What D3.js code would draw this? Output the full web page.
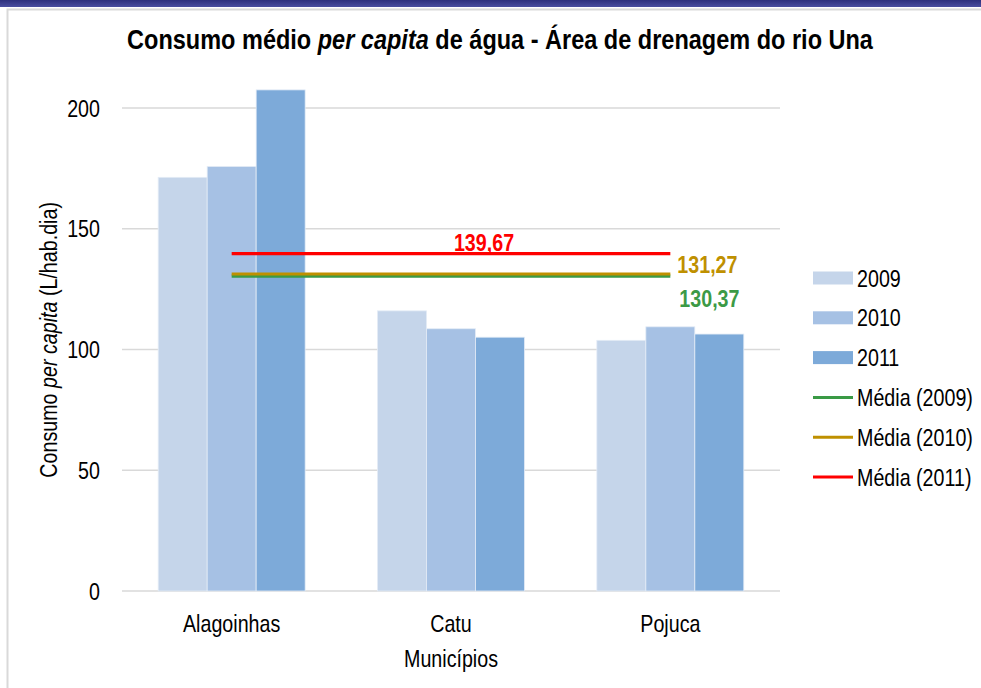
<!DOCTYPE html>
<html>
<head>
<meta charset="utf-8">
<script src="https://cdn.jsdelivr.net/npm/d3@7"></script>
<style>
  html, body { margin: 0; padding: 0; background: #fff; }
  svg { display: block; font-family: "Liberation Sans", Arial, sans-serif; }
</style>
</head>
<body>
<svg id="chart" width="981" height="688"></svg>
<script>
// data
var municipios = ["Alagoinhas", "Catu", "Pojuca"];
var anos = ["2009", "2010", "2011"];
var consumo2009 = [171.3, 116.0, 103.8];
var consumo2010 = [175.8, 108.6, 109.4];
var consumo2011 = [207.5, 105.1, 106.4];
var medias = [130.37, 131.27, 139.67];
var mediaLabels = ["130,37", "131,27", "139,67"];
var yTicks = [0, 50, 100, 150, 200];

var barColors = ["#c5d5ea", "#a6c1e4", "#7daad9"];
var lineColors = ["#3a9a45", "#bf9000", "#ff0000"];

var NARROW = 0.82; // fake Arial Narrow

var svg = d3.select("#chart");
var W = 981, H = 688;
var margin = {top: 108, right: 201, bottom: 97, left: 122};
var width = W - margin.left - margin.right,
    height = H - margin.top - margin.bottom;

// narrow text helper: g at (x,y) squeezed horizontally
function ntext(parent, x, y, size, anchor, sx, rot) {
  var tr = "translate(" + x + "," + y + ")" + (rot ? " rotate(" + rot + ")" : "") + " scale(" + (sx || NARROW) + ",1)";
  return parent.append("g").attr("transform", tr)
    .append("text")
    .attr("text-anchor", anchor || "start")
    .attr("font-size", size)
    .attr("fill", "#000");
}

// frame + top band
var defs = svg.append("defs");
var grad = defs.append("linearGradient").attr("id", "band").attr("x1", 0).attr("y1", 0).attr("x2", 0).attr("y2", 1);
grad.append("stop").attr("offset", "0%").attr("stop-color", "#2d2f7c");
grad.append("stop").attr("offset", "100%").attr("stop-color", "#4a4ea0");
svg.append("rect").attr("x", 0).attr("y", 0).attr("width", W).attr("height", 7).attr("fill", "url(#band)");
svg.append("path").attr("d", "M7.5," + H + " V9.5 H" + W)
   .attr("fill", "none").attr("stroke", "#d9d9d9").attr("stroke-width", 2);

var x0 = d3.scaleBand().domain(municipios).range([0, width]).paddingInner(0.33).paddingOuter(0.165);
var x1 = d3.scaleBand().domain(anos).range([0, x0.bandwidth()]);
var y = d3.scaleLinear().domain([0, 200]).range([height, 0]);

var g = svg.append("g").attr("transform", "translate(" + margin.left + "," + margin.top + ")");

// gridlines
g.selectAll("line.grid").data(yTicks).enter().append("line")
  .attr("class", "grid")
  .attr("x1", 0).attr("x2", width)
  .attr("y1", function(d) { return y(d); }).attr("y2", function(d) { return y(d); })
  .attr("stroke", "#d9d9d9").attr("stroke-width", 1.5);

// y tick labels
yTicks.forEach(function(t) {
  ntext(g, -22, y(t), 24, "end").attr("dy", "0.36em").text(t);
});

// bars
var series = [consumo2009, consumo2010, consumo2011];
var rows = [];
municipios.forEach(function(m, i) {
  anos.forEach(function(a, j) {
    rows.push({m: m, a: a, j: j, v: series[j][i]});
  });
});
g.selectAll("rect.bar").data(rows).enter().append("rect")
  .attr("class", "bar")
  .attr("x", function(d) { return x0(d.m) + x1(d.a); })
  .attr("width", x1.bandwidth())
  .attr("y", function(d) { return y(d.v); })
  .attr("height", function(d) { return height - y(d.v); })
  .attr("fill", function(d) { return barColors[d.j]; })
  .attr("stroke", "#e4ecf6").attr("stroke-width", 0.8);

// mean lines, first to last category centre
var xFirst = x0(municipios[0]) + x0.bandwidth() / 2;
var xLast = x0(municipios[municipios.length - 1]) + x0.bandwidth() / 2;
medias.forEach(function(v, i) {
  g.append("line")
    .attr("x1", xFirst).attr("x2", xLast)
    .attr("y1", y(v)).attr("y2", y(v))
    .attr("stroke", lineColors[i]).attr("stroke-width", 3.2);
});

// mean labels
var xMid = x0(municipios[1]) + x0.bandwidth() / 2;
ntext(g, xMid + 33, y(medias[2]) - 3, 24, "middle")
  .attr("font-weight", "bold").attr("fill", lineColors[2]).text(mediaLabels[2]);
ntext(g, xLast + 7, y(medias[1]) - 1, 24, "start")
  .attr("font-weight", "bold").attr("fill", lineColors[1]).text(mediaLabels[1]);
ntext(g, xLast + 9, y(medias[0]) + 31, 24, "start")
  .attr("font-weight", "bold").attr("fill", "#3c9a46").text(mediaLabels[0]);

// x category labels
municipios.forEach(function(m) {
  ntext(g, x0(m) + x0.bandwidth() / 2, height + 41, 24, "middle").text(m);
});

// axis titles
ntext(g, width / 2, height + 76, 24, "middle").text("Municípios");

var yt = ntext(svg, 57, margin.top + y(104), 24, "middle", NARROW, -90);
yt.append("tspan").text("Consumo ");
yt.append("tspan").attr("font-style", "italic").text("per capita");
yt.append("tspan").text(" (L/hab.dia)");

// title
var tt = ntext(svg, 500, 49, 28, "middle", 0.84).attr("font-weight", "bold");
tt.append("tspan").text("Consumo médio ");
tt.append("tspan").attr("font-style", "italic").text("per capita");
tt.append("tspan").text(" de água - Área de drenagem do rio Una");

// legend
var legendItems = anos.map(function(a, i) { return {label: a, type: "bar", color: barColors[i]}; })
  .concat(anos.map(function(a, i) { return {label: "Média (" + a + ")", type: "line", color: lineColors[i]}; }));
var leg = svg.append("g").attr("transform", "translate(813,278)");
legendItems.forEach(function(d, i) {
  var row = leg.append("g").attr("transform", "translate(0," + (i * 39.8) + ")");
  if (d.type === "bar") {
    row.append("rect").attr("x", 0).attr("y", -6.5).attr("width", 40).attr("height", 13)
      .attr("fill", d.color);
  } else {
    row.append("line").attr("x1", 0).attr("x2", 40).attr("y1", 0).attr("y2", 0)
      .attr("stroke", d.color).attr("stroke-width", 3);
  }
  ntext(row, 44, 0, 24, "start").attr("dy", "0.36em").text(d.label);
});
</script>
</body>
</html>
